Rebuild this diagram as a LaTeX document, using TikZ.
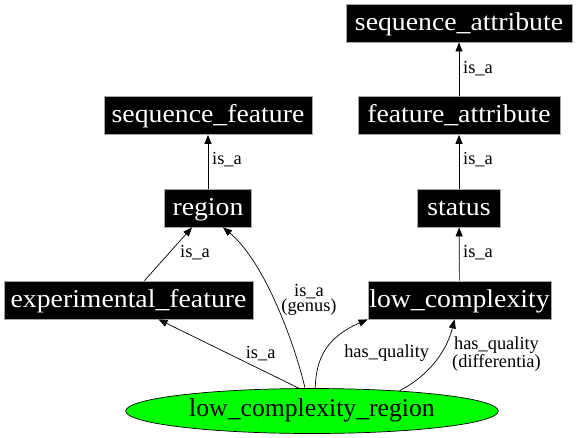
\documentclass[tikz,border=0pt]{standalone}
\usepackage{fontspec}
\setmainfont{Liberation Serif}
\newfontfamily\wideserif[FakeStretch=1.08]{Liberation Serif}
\usetikzlibrary{arrows.meta,shapes.geometric}
\definecolor{termgreen}{HTML}{00FF00}
\begin{document}
\begin{tikzpicture}[x=1pt,y=-1pt,
  cls/.style={rectangle, draw=gray!70, fill=black, text=white, line width=0.8pt,
    font=\wideserif\fontsize{25.7}{28}\selectfont, minimum height=38pt, inner sep=0pt,
    text height=18pt, text depth=4pt},
  term/.style={ellipse, draw=black, fill=termgreen, line width=0.7pt,
    font=\fontsize{25.7}{28}\selectfont, minimum width=372.6pt, minimum height=45pt,
    inner sep=0pt, text height=15pt, text depth=5pt},
  lbl/.style={font=\fontsize{18.4}{15.5}\selectfont, inner sep=0pt, align=center},
  edge/.style={-{Triangle[length=9pt,width=7pt]}, line width=0.7pt}]
\useasboundingbox (0,0) rectangle (576,437);

\node[cls, minimum width=226pt] (sa) at (459,23) {sequence\_attribute};
\node[cls, minimum width=202pt] (fa) at (459,115.5) {feature\_attribute};
\node[cls, minimum width=208pt] (sf) at (208,115.5) {sequence\_feature};
\node[cls, minimum width=87.4pt] (rg) at (208,208) {region};
\node[cls, minimum width=83pt] (st) at (459,208) {status};
\node[cls, minimum width=249pt] (ef) at (128.5,300) {experimental\_feature};
\node[cls, minimum width=183pt] (lc) at (459.5,300) {low\_complexity};
\node[term] (lcr) at (312,411) {low\_complexity\_region};

\draw[edge] (fa) -- (sa);
\draw[edge] (st) -- (fa);
\draw[edge] (lc) -- (st);
\draw[edge] (rg) -- (sf);
\draw[edge] ([xshift=16pt]ef.north) -- ([xshift=-16pt]rg.south);
\draw[edge] (lcr.120) -- ([xshift=30pt]ef.south);
\draw[edge] (lcr.107) .. controls (295,345) and (265,262) .. ([xshift=15pt]rg.south);
\draw[edge] (lcr.82) .. controls (316,360) and (325,338) .. (lc.south west);
\draw[edge] (lcr.13) .. controls (430,375) and (447,350) .. ([xshift=-5pt]lc.south);

\node[lbl] (l1) at (478,69) {is\_a};
\node[lbl] (l2) at (478,160) {is\_a};
\node[lbl] (l3) at (227,160) {is\_a};
\node[lbl] (l4) at (478,252.7) {is\_a};
\node[lbl] (l5) at (195,252.7) {is\_a};
\node[lbl] (l6) at (309,300) {is\_a\\(genus)};
\node[lbl] (l7) at (260.7,353.3) {is\_a};
\node[lbl] (l8) at (386.7,353.3) {has\_quality};
\node[lbl] (l9) at (496.5,354) {has\_quality\\(differentia)};
\end{tikzpicture}
\end{document}
